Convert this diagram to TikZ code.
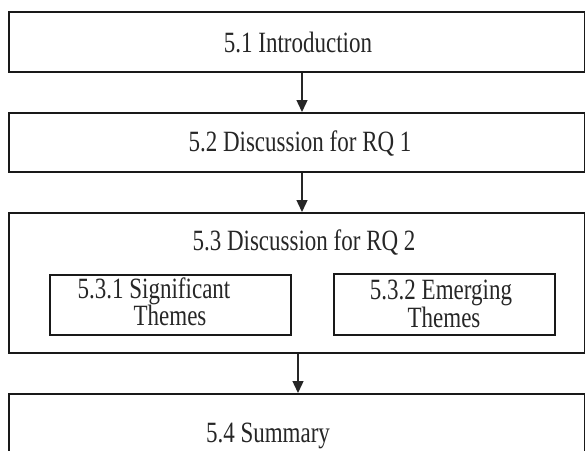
\documentclass[tikz,border=0pt]{standalone}
\usepackage{fontspec}
\setmainfont{Liberation Serif}
\usetikzlibrary{arrows.meta}
\newcommand{\vstr}[1]{\scalebox{1}[1.28]{#1}}
\tikzset{
  boxline/.style={draw=black!90, line width=1.6pt},
  lbl/.style={anchor=base, inner sep=0pt, text=black!85, font=\fontsize{23}{27}\selectfont},
  arr/.style={draw=black!85, line width=1.4pt, -{Triangle[width=11pt,length=12pt]}},
}
\begin{document}
\begin{tikzpicture}[x=1pt,y=-1pt]
\useasboundingbox (0,0) rectangle (585,450);
\fill[white] (0,0) rectangle (585,450);
\clip (0,0) rectangle (585,450);
% outer boxes
\node[boxline, minimum width=576pt, minimum height=60pt, inner sep=0pt, anchor=north west] (b1) at (8,11) {};
\node[boxline, minimum width=576pt, minimum height=59pt, inner sep=0pt, anchor=north west] (b2) at (8,112) {};
\node[boxline, minimum width=576pt, minimum height=140pt, inner sep=0pt, anchor=north west] (b3) at (8,212) {};
\node[boxline, minimum width=576pt, minimum height=70pt, inner sep=0pt, anchor=north west] (b4) at (8,393) {};
% inner boxes
\node[boxline, minimum width=241pt, minimum height=60pt, inner sep=0pt, anchor=north west] (s1) at (49,274) {};
\node[boxline, minimum width=221pt, minimum height=61pt, inner sep=0pt, anchor=north west] (s2) at (333,273) {};
% labels
\node[lbl] (t1) at (298,52) {\vstr{5.1 Introduction}};
\node[lbl] (t2) at (300,151) {\vstr{5.2 Discussion for RQ 1}};
\node[lbl] (t3) at (304,250) {\vstr{5.3 Discussion for RQ 2}};
\node[lbl] (t31a) at (154,298) {\vstr{5.3.1 Significant}};
\node[lbl] (t31b) at (170,325) {\vstr{Themes}};
\node[lbl] (t32a) at (441,299) {\vstr{5.3.2 Emerging}};
\node[lbl] (t32b) at (444,327) {\vstr{Themes}};
\node[lbl] (t4) at (268,442) {\vstr{5.4 Summary}};
% arrows
\coordinate (x1) at (302,0);
\coordinate (x2) at (298,0);
\draw[arr] (b1.south -| x1) -- (b2.north -| x1);
\draw[arr] (b2.south -| x1) -- (b3.north -| x1);
\draw[arr] (b3.south -| x2) -- (b4.north -| x2);
\end{tikzpicture}
\end{document}
